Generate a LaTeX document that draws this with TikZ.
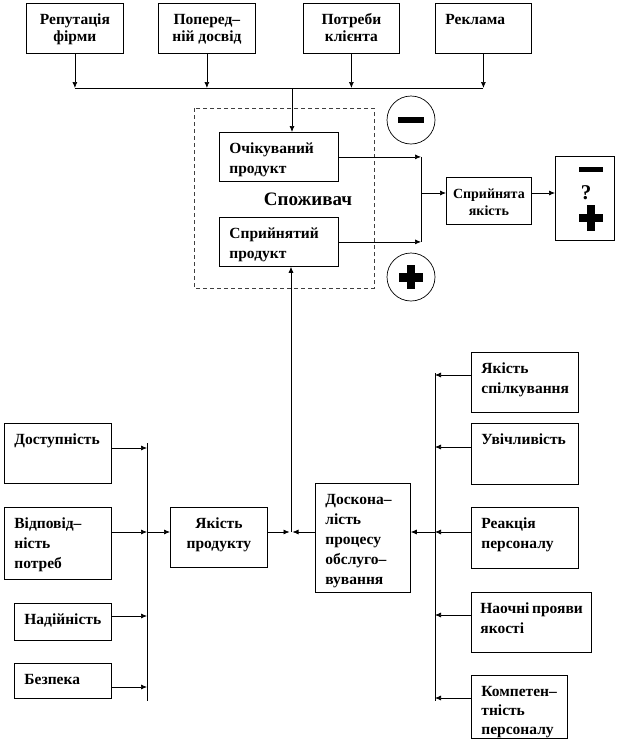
\documentclass[tikz,border=0pt]{standalone}
\usepackage{fontspec}
\setmainfont{Liberation Serif}
\usetikzlibrary{arrows.meta}

% text inside a box: width, height, alignment, lines
\newcommand{\boxtxt}[4]{\parbox[t][#2pt][t]{#1pt}{#3\rule{0pt}{21pt}#4}}

\tikzset{
	box/.style={draw, line width=.8pt, anchor=north west, inner xsep=10pt, inner ysep=0pt, font=\bfseries\fontsize{15.5}{20}\selectfont},
	topbox/.style={box, font=\bfseries\fontsize{15.5}{17}\selectfont},
	arr/.style={-{Latex[length=6pt,width=5pt]}, line width=.7pt},
	ln/.style={line width=.7pt},
	consbox/.style={draw=black!75, line width=.8pt, dash pattern=on 4pt off 3pt},
	sign/.style={circle, draw, line width=.7pt, minimum size=48pt, inner sep=0pt}
}

\begin{document}
\begin{tikzpicture}[x=1pt,y=-1pt]
	\useasboundingbox (0,0) rectangle (617,750);
	
	% верхній ряд
	\node[topbox] (rep) at (26,3) {\boxtxt{77}{50}{\centering}{Репутація\\фірми}};
	\node[topbox] (dosv) at (158,3) {\boxtxt{77}{50}{\centering}{Поперед–\\ній досвід}};
	\node[topbox] (potr) at (303,3) {\boxtxt{76}{50}{\centering}{Потреби\\клієнта}};
	\node[topbox] (rekl) at (435,3) {\boxtxt{76}{50}{\raggedright}{Реклама}};
	
	\coordinate (bus) at (292,88);
	\draw[ln] (rep.south |- bus) -- (rekl.south |- bus);
	\foreach \b in {rep,dosv,potr,rekl}
		\draw[arr] (\b.south) -- (\b.south |- bus);
	
	% споживач
	\draw[consbox] (194,108) rectangle (374,288);
	\node[box] (ochik) at (219,132) {\boxtxt{99}{49}{\raggedright}{Очікуваний\\продукт}};
	\node[box] (sprod) at (219,217) {\boxtxt{99}{49}{\raggedright}{Сприйнятий\\продукт}};
	\node[font=\bfseries\fontsize{19}{22}\selectfont] (spozh) at (308,199) {Споживач};
	\draw[arr] (bus) -- (bus |- ochik.north);
	
	\node[sign] (minus) at (411,120) {};
	\fill (398,117) rectangle (424,123);
	\node[sign] (plus) at (411,277) {};
	\fill (399,272.5) rectangle (423,281.5);
	\fill (407,265) rectangle (415,289);
	
	\node[box, inner xsep=4pt, font=\bfseries\fontsize{14}{17}\selectfont] (sjak) at (446,177) {\boxtxt{77}{47}{\centering}{Сприйнята\\якість}};
	\node[box, minimum width=59pt, minimum height=84pt] (res) at (555,156) {};
	\fill (579,167) rectangle (603,172);
	\node[font=\bfseries\fontsize{21}{21}\selectfont, inner sep=0pt] (q) at (586,193) {?};
	\fill (579,214) rectangle (603,222);
	\fill (587,205) rectangle (595,231);
	
	\coordinate (jr) at (421,193);
	\draw[arr] (ochik.east) -- (ochik.east -| jr);
	\draw[arr] (sprod.east) -- (sprod.east -| jr);
	\draw[ln] (ochik.east -| jr) -- (sprod.east -| jr);
	\draw[arr] (jr) -- (jr -| sjak.west);
	\draw[arr] (sjak.east |- jr) -- (jr -| res.west);
	
	% якість продукту
	\node[box] (dost) at (4,423) {\boxtxt{87}{60}{\raggedright}{Доступність}};
	\node[box] (vidp) at (4,507) {\boxtxt{87}{72}{\raggedright}{Відповід–\\ність\\потреб}};
	\node[box] (nad) at (14,603) {\boxtxt{77}{37}{\raggedright}{Надійність}};
	\node[box] (bez) at (14,663) {\boxtxt{77}{35}{\raggedright}{Безпека}};
	\node[box] (jprod) at (170,507) {\boxtxt{77}{60}{\centering}{Якість\\продукту}};
	
	\coordinate (lb) at (147,532);
	\draw[ln] (147,443) -- (147,701);
	\foreach \b/\y in {dost/448,vidp/532,nad/616,bez/687}
		\draw[arr] (\b.east |- 0,\y) -- (147,\y);
	\draw[arr] (lb) -- (lb -| jprod.west);
	
	% обслуговування
	\node[box] (dosk) at (315,483) {\boxtxt{75}{109}{\raggedright}{Доскона–\\лість\\процесу\\обслуго–\\вування}};
	\node[box] (spilk) at (471,352) {\boxtxt{87}{60}{\raggedright}{Якість\\спілкування}};
	\node[box] (uvich) at (471,423) {\boxtxt{87}{61}{\raggedright}{Увічливість}};
	\node[box] (reak) at (471,507) {\boxtxt{87}{61}{\raggedright}{Реакція\\персоналу}};
	\node[box, inner xsep=9pt] (naoch) at (471,592) {\boxtxt{102}{60}{\raggedright}{Наочні~прояви\\якості}};
	\node[box, font=\bfseries\fontsize{15.5}{19}\selectfont] (komp) at (471,675) {\boxtxt{76}{63}{\raggedright}{Компетен–\\тність\\персоналу}};
	
	\coordinate (rb) at (435,532);
	\draw[ln] (435,373) -- (435,701);
	\foreach \b/\y in {spilk/375,uvich/447,reak/532,naoch/615,komp/698}
		\draw[arr] (\b.west |- 0,\y) -- (435,\y);
	\draw[arr] (rb) -- (rb -| dosk.east);
	
	\coordinate (jq) at (291,532);
	\draw[arr, shorten >=1.5pt] (jprod.east |- jq) -- (jq);
	\draw[arr, shorten >=1.5pt] (dosk.west |- jq) -- (jq);
	\draw[arr] (jq) -- (jq |- sprod.south);
\end{tikzpicture}
\end{document}
